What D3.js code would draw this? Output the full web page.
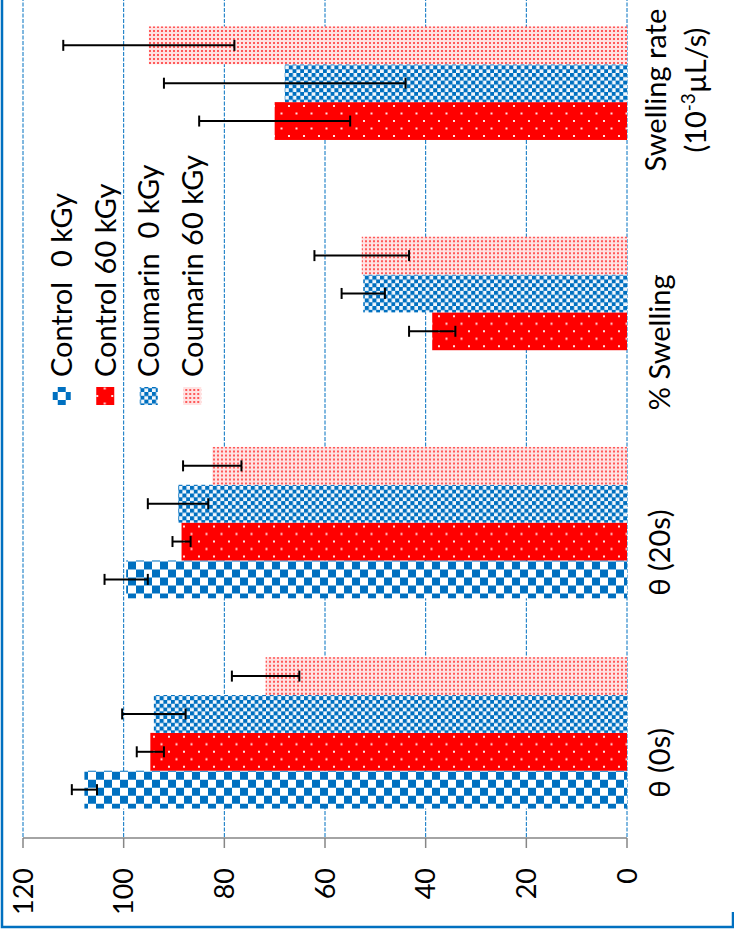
<!DOCTYPE html>
<html><head><meta charset="utf-8">
<script src="https://cdn.jsdelivr.net/npm/d3@7"></script>
<style>html,body{margin:0;padding:0;background:#fff;}svg{display:block;}</style>
</head><body>
<svg id="chart" width="734" height="930"></svg>
<script>
const categories = ["θ (0s)", "θ (20s)", "% Swelling", "Swelling rate"];
const seriesNames = ["Control  0 kGy", "Control 60 kGy", "Coumarin  0 kGy", "Coumarin 60 kGy"];
const control0 = [107.8, 99.5, null, null];
const control60 = [94.7, 88.5, 38.7, 70.0];
const coumarin0 = [94.0, 89.2, 52.4, 68.0];
const coumarin60 = [71.8, 82.4, 52.7, 95.0];
const control0Err = [2.5, 4.3, null, null];
const control60Err = [2.7, 1.8, 4.6, 15.0];
const coumarin0Err = [6.3, 6.0, 4.3, 24.0];
const coumarin60Err = [6.7, 5.8, 9.4, 17.0];
const tickValues = [0, 20, 40, 60, 80, 100, 120];

const seriesVals = [control0, control60, coumarin0, coumarin60];
const seriesErrs = [control0Err, control60Err, coumarin0Err, coumarin60Err];
const patIds = ["pC0", "pC60", "pM0", "pM60"];

const svg = d3.select("#chart");
const FONT = "Lato, 'Open Sans', sans-serif";
const blue = "#0070C0", red = "#FF0000";

// patterns
const defs = svg.append("defs");
let p = defs.append("pattern").attr("id", "pC0").attr("patternUnits", "userSpaceOnUse")
  .attr("width", 16).attr("height", 16);
p.append("rect").attr("width", 16).attr("height", 16).attr("fill", "#fff");
p.append("rect").attr("x", 0).attr("y", 0).attr("width", 8).attr("height", 8).attr("fill", blue);
p.append("rect").attr("x", 8).attr("y", 8).attr("width", 8).attr("height", 8).attr("fill", blue);

p = defs.append("pattern").attr("id", "pC60").attr("patternUnits", "userSpaceOnUse")
  .attr("width", 15).attr("height", 15);
p.append("rect").attr("width", 15).attr("height", 15).attr("fill", red);
p.append("rect").attr("x", 3).attr("y", 3).attr("width", 2).attr("height", 2).attr("fill", "#FFE0E0");
p.append("rect").attr("x", 10.5).attr("y", 10.5).attr("width", 2).attr("height", 2).attr("fill", "#FFE0E0");

p = defs.append("pattern").attr("id", "pM0").attr("patternUnits", "userSpaceOnUse")
  .attr("width", 7.6).attr("height", 7.6);
p.append("rect").attr("width", 7.6).attr("height", 7.6).attr("fill", "#F2F7FC");
p.append("rect").attr("x", 0).attr("y", 0).attr("width", 4.1).attr("height", 4.1).attr("fill", blue);
p.append("rect").attr("x", 3.8).attr("y", 3.8).attr("width", 4.1).attr("height", 4.1).attr("fill", blue);

p = defs.append("pattern").attr("id", "pM60").attr("patternUnits", "userSpaceOnUse")
  .attr("width", 4).attr("height", 4);
p.append("rect").attr("width", 4).attr("height", 4).attr("fill", "#FFE2E2");
p.append("rect").attr("x", 1).attr("y", 1).attr("width", 2).attr("height", 2).attr("fill", "#FF5A5A");

// scales (chart is rotated: value axis horizontal, reversed)
const x = d3.scaleLinear().domain([0, 120]).range([627, 23]);
const y = d3.scaleBand().domain(categories).range([838, -3]).padding(0);
const gapFrac = 0.14;
const yInner = d3.scaleBand().domain(seriesNames)
  .range([y.bandwidth() * (1 - gapFrac), y.bandwidth() * gapFrac]).padding(0);

// frame
svg.append("path").attr("d", "M2,-5V927H733V912")
  .attr("fill", "none").attr("stroke", blue).attr("stroke-width", 2.5);

// gridlines
svg.append("g").selectAll("line").data(tickValues).join("line")
  .attr("x1", d => x(d)).attr("x2", d => x(d))
  .attr("y1", -3).attr("y2", 838)
  .attr("stroke", blue).attr("stroke-width", 1).attr("stroke-dasharray", "4,1.5");

// bars
const groups = svg.append("g").selectAll("g").data(categories).join("g")
  .attr("transform", d => `translate(0,${y(d)})`);
seriesNames.forEach((s, si) => {
  groups.filter((c, ci) => seriesVals[si][ci] != null)
    .append("rect")
    .attr("x", (c) => x(seriesVals[si][categories.indexOf(c)]))
    .attr("y", yInner(s))
    .attr("width", (c) => x(0) - x(seriesVals[si][categories.indexOf(c)]))
    .attr("height", yInner.bandwidth())
    .attr("fill", `url(#${patIds[si]})`);
});
// error bars
seriesNames.forEach((s, si) => {
  groups.filter((c, ci) => seriesVals[si][ci] != null && seriesErrs[si][ci] != null)
    .each(function (c) {
      const ci = categories.indexOf(c);
      const v = seriesVals[si][ci], e = seriesErrs[si][ci];
      const yc = yInner(s) + yInner.bandwidth() / 2;
      const g = d3.select(this).append("g").attr("stroke", "#000").attr("stroke-width", 2);
      g.append("line").attr("x1", x(v - e)).attr("x2", x(v + e)).attr("y1", yc).attr("y2", yc);
      g.append("line").attr("x1", x(v - e)).attr("x2", x(v - e)).attr("y1", yc - 5.5).attr("y2", yc + 5.5);
      g.append("line").attr("x1", x(v + e)).attr("x2", x(v + e)).attr("y1", yc - 5.5).attr("y2", yc + 5.5);
    });
});

// value axis (bottom)
const axisG = svg.append("g");
axisG.append("line").attr("x1", x(120)).attr("x2", x(0)).attr("y1", 838).attr("y2", 838)
  .attr("stroke", "#868686").attr("stroke-width", 1.5);
axisG.selectAll("line.tk").data(tickValues).join("line").attr("class", "tk")
  .attr("x1", d => x(d)).attr("x2", d => x(d)).attr("y1", 838).attr("y2", 848)
  .attr("stroke", "#868686").attr("stroke-width", 1.5);
axisG.selectAll("text").data(tickValues).join("text")
  .attr("transform", d => `translate(${x(d)},868) rotate(-90)`)
  .attr("text-anchor", "end").attr("dy", "0.36em")
  .attr("font-family", FONT).attr("font-size", 27).attr("fill", "#000")
  .text(d => d);

// category labels
const labG = svg.append("g").attr("font-family", FONT).attr("font-size", 29).attr("fill", "#000");
categories.forEach((c, ci) => {
  const yc = y(c) + y.bandwidth() / 2;
  if (c === "Swelling rate") {
    labG.append("text").attr("transform", `translate(656,${yc - 12}) rotate(-90)`)
      .attr("text-anchor", "middle").attr("dy", "0.36em").text(c);
    const t = labG.append("text").attr("transform", `translate(696,${yc - 12}) rotate(-90)`)
      .attr("text-anchor", "middle").attr("dy", "0.36em");
    t.append("tspan").text("(10");
    t.append("tspan").attr("baseline-shift", "super").attr("font-size", 19).text("-3");
    t.append("tspan").text("µL/s)");
  } else {
    labG.append("text").attr("transform", `translate(660,${yc + 30}) rotate(-90)`)
      .attr("text-anchor", "middle").attr("dy", "0.36em").text(c);
  }
});

// legend
const lx = d3.scaleBand().domain(seriesNames).range([40, 214]);
const leg = svg.append("g").selectAll("g").data(seriesNames).join("g")
  .attr("transform", d => `translate(${lx(d) + lx.bandwidth() / 2},0)`);
leg.append("g").attr("transform", "translate(-12,392)")
  .append("rect").attr("x", 3).attr("y", -5).attr("width", 18).attr("height", 18)
  .attr("fill", (d, i) => `url(#${patIds[i]})`);
leg.append("text").attr("transform", "translate(0,377) rotate(-90)")
  .attr("text-anchor", "start").attr("dy", "0.36em")
  .attr("font-family", FONT).attr("font-size", 29).attr("fill", "#000")
  .style("white-space", "pre").text(d => d);
</script>
</body></html>
